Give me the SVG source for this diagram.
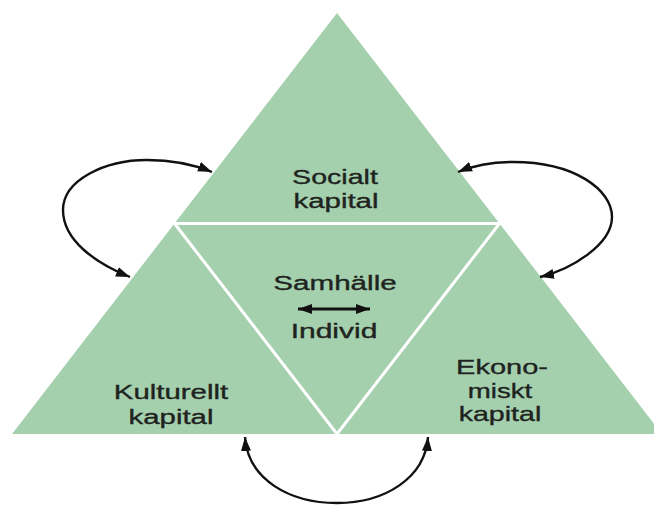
<svg xmlns="http://www.w3.org/2000/svg" width="654" height="507" viewBox="0 0 654 507">
  <style>
    .tri { fill: #a4d0ae; stroke: none; }
    .inner { fill: #a4d0ae; stroke: #ffffff; stroke-width: 3; stroke-linejoin: miter; }
    .lbl { font-family: "Liberation Sans", Arial, sans-serif; font-size: 20px; fill: #1f2320; stroke: #1f2320; stroke-width: 0.35; text-anchor: middle; }
    .arc { fill: none; stroke: #111111; stroke-width: 2.4; }
  </style>
  <defs>
    <marker id="head" viewBox="-14 -6 14 12" refX="0" refY="0" markerWidth="14" markerHeight="12" markerUnits="userSpaceOnUse" orient="auto-start-reverse">
      <path d="M0,0 L-14,-5 L-14,5 z" fill="#111111"/>
    </marker>
    <marker id="headS" viewBox="-14 -6 14 12" refX="0" refY="0" markerWidth="14" markerHeight="12" markerUnits="userSpaceOnUse" orient="auto-start-reverse">
      <path d="M0,0 L-14,-5 L-14,5 z" fill="#111111"/>
    </marker>
  </defs>

  <g id="socialt-kapital">
    <polygon class="tri" points="337,13 174.5,223.5 499.5,223.5"/>
    <text class="lbl" transform="translate(335,184) scale(1.43,1)">Socialt</text>
    <text class="lbl" transform="translate(336,208) scale(1.47,1)">kapital</text>
  </g>

  <g id="kulturellt-kapital">
    <polygon class="tri" points="174.5,223.5 12,434 337,434"/>
    <text class="lbl" transform="translate(171,399) scale(1.47,1)">Kulturellt</text>
    <text class="lbl" transform="translate(171,424) scale(1.47,1)">kapital</text>
  </g>

  <g id="ekonomiskt-kapital">
    <polygon class="tri" points="499.5,223.5 337,434 662,434"/>
    <text class="lbl" transform="translate(502,374) scale(1.45,1)">Ekono-</text>
    <text class="lbl" transform="translate(500,398) scale(1.38,1)">miskt</text>
    <text class="lbl" transform="translate(500,421) scale(1.43,1)">kapital</text>
  </g>

  <g id="samhalle-individ">
    <polygon class="inner" points="174.5,223.5 499.5,223.5 337,434"/>
    <text class="lbl" transform="translate(335,290) scale(1.48,1)">Samhälle</text>
    <text class="lbl" transform="translate(334,338) scale(1.5,1)">Individ</text>
    <line x1="298" y1="309" x2="370" y2="309" stroke="#111111" stroke-width="2.8" marker-start="url(#headS)" marker-end="url(#headS)"/>
  </g>

  <g id="connectors">
    <path class="arc" d="M130,277 C95,263 63,240 63,210 C63,180 105,160 147,160 C175,160 195,165 212,172" marker-start="url(#head)" marker-end="url(#head)"/>
    <path class="arc" d="M458,172 C475,165 495,162 513,162 C575,162 612,190 612,217 C612,245 570,270 540,277" marker-start="url(#head)" marker-end="url(#head)"/>
    <path class="arc" d="M245,437 C248,480 290,503 337,503 C385,503 425,478 428,437" marker-start="url(#head)" marker-end="url(#head)"/>
  </g>
</svg>
